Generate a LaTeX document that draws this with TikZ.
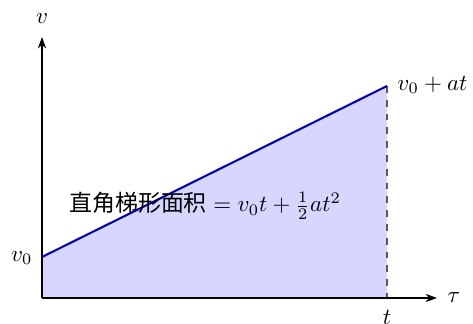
\documentclass[tikz,border=0pt]{standalone}
\usepackage{fontspec}
\newfontfamily\cjk{Noto Sans CJK SC}
\usetikzlibrary{arrows.meta}
\begin{document}
\begin{tikzpicture}[x=0.435pt,y=0.435pt,
  axis/.style={line width=0.45pt,-{Stealth[length=5pt,width=3.6pt]}},
  vline/.style={blue!72!black,line width=0.9pt},
  area/.style={fill=blue!16},
  guide/.style={dashed,black!65,line width=0.45pt},
  lbl/.style={inner sep=0pt}]
\useasboundingbox (0,0) rectangle (473,324);
\coordinate (O) at (42,26);
\coordinate (A) at (42,67);
\coordinate (B) at (387,238);
\coordinate (T) at (387,26);
\coordinate (X) at (437,26);
\coordinate (Y) at (42,287);
\fill[area] (O) -- (A) -- (B) -- (T) -- cycle;
\draw[guide] (B) -- (T);
\draw[axis] (O) -- (X);
\draw[axis] (O) -- (Y);
\draw[vline] (A) -- (B);
\node[lbl] (lv) at (42,305) {$v$};
\node[lbl] (ltau) at (454,26) {$\tau$};
\node[lbl] (lt) at (387,7) {$t$};
\node[lbl,anchor=east] (lv0) at (33,66) {$v_0$};
\node[lbl,anchor=west] (lvat) at (397,239) {$v_0+at$};
\node[lbl] (larea) at (205,118) {{\cjk 直角梯形面积}${}=v_0t+\frac{1}{2}at^2$};
\end{tikzpicture}
\end{document}
